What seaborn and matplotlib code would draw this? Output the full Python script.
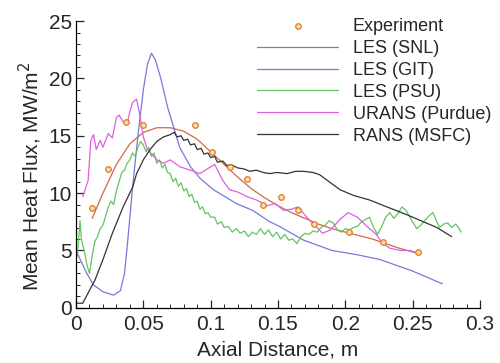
import matplotlib
matplotlib.use("Agg")
import matplotlib.pyplot as plt
import seaborn as sns
import numpy as np
from matplotlib.ticker import MultipleLocator

# ---------------- data ----------------
exp_x = [0.012, 0.024, 0.037, 0.050, 0.088, 0.101, 0.114, 0.127, 0.139, 0.152,
         0.165, 0.177, 0.203, 0.228, 0.254]
exp_y = [8.7, 12.1, 16.2, 15.9, 15.9, 13.6, 12.3, 11.2, 9.0, 9.7,
         8.5, 7.3, 6.6, 5.7, 4.9]

snl_x = [0.012, 0.020, 0.030, 0.040, 0.050, 0.060, 0.070, 0.080, 0.090, 0.100,
         0.110, 0.120, 0.130, 0.140, 0.150, 0.160, 0.170, 0.180, 0.190, 0.200,
         0.210, 0.220, 0.230, 0.240, 0.255]
snl_y = [7.8, 10.0, 12.5, 14.3, 15.3, 15.7, 15.7, 15.4, 14.7, 13.6,
         12.5, 11.4, 10.4, 9.6, 8.9, 8.3, 7.8, 7.3, 6.9, 6.6,
         6.3, 6.0, 5.6, 5.2, 4.7]

git_x = [0.000, 0.004, 0.008, 0.013, 0.020, 0.028, 0.033, 0.036, 0.038, 0.042,
         0.046, 0.050, 0.053, 0.056, 0.059, 0.063, 0.068, 0.077, 0.085, 0.092,
         0.102, 0.119, 0.131, 0.144, 0.151, 0.169, 0.190, 0.210, 0.226, 0.250,
         0.272]
git_y = [5.0, 4.0, 3.0, 2.0, 1.4, 1.1, 1.5, 3.0, 5.3, 10.5,
         15.0, 19.0, 21.2, 22.2, 21.6, 20.0, 17.5, 14.0, 12.3, 11.3,
         10.3, 9.1, 8.5, 7.5, 7.1, 5.9, 5.0, 4.6, 4.2, 3.2,
         2.1]

psu_x = [0.001, 0.003, 0.004, 0.006, 0.008, 0.010, 0.012, 0.014, 0.016, 0.018,
         0.020, 0.022, 0.024, 0.026, 0.028, 0.030, 0.032, 0.034, 0.036, 0.038,
         0.040, 0.042, 0.044, 0.046, 0.048, 0.050, 0.052, 0.054, 0.056, 0.058,
         0.060, 0.062, 0.064, 0.066, 0.068, 0.070, 0.072, 0.074, 0.076, 0.078,
         0.080, 0.082, 0.084, 0.086, 0.088, 0.090, 0.092, 0.094, 0.096, 0.098,
         0.100, 0.103, 0.105, 0.108, 0.110, 0.113, 0.116, 0.119, 0.122, 0.125,
         0.128, 0.131, 0.134, 0.137, 0.140, 0.143, 0.146, 0.149, 0.152, 0.155,
         0.158, 0.161, 0.164, 0.167, 0.170, 0.173, 0.176, 0.179, 0.182, 0.185,
         0.188, 0.191, 0.194, 0.197, 0.200, 0.203, 0.206, 0.209, 0.212, 0.215,
         0.218, 0.221, 0.224, 0.227, 0.230, 0.233, 0.236, 0.239, 0.242, 0.245,
         0.248, 0.251, 0.253, 0.256, 0.259, 0.262, 0.265, 0.268, 0.270, 0.273,
         0.276, 0.279, 0.282, 0.284, 0.286]
psu_y = [4.5, 7.6, 6.0, 5.0, 3.8, 3.0, 4.5, 5.8, 6.2, 6.9,
         7.2, 8.0, 8.8, 9.3, 9.0, 10.2, 11.0, 11.8, 12.0, 12.6,
         12.9, 13.5, 13.2, 14.0, 14.5, 14.2, 13.6, 14.0, 13.2, 13.5,
         12.6, 12.9, 12.2, 12.5, 11.8, 11.7, 11.0, 11.3, 10.6, 10.9,
         10.2, 10.4, 9.7, 9.9, 9.2, 9.3, 8.6, 8.8, 8.2, 8.3,
         7.9, 7.9, 7.3, 7.5, 7.0, 7.1, 6.6, 6.9, 6.5, 6.7,
         6.2, 6.6, 6.4, 6.9, 6.4, 6.8, 6.2, 6.6, 6.0, 6.4,
         5.9, 6.0, 5.6, 6.2, 6.5, 6.4, 6.7, 6.6, 7.0, 7.2,
         7.6, 7.4, 6.8, 6.6, 6.9, 6.8, 7.0, 7.1, 7.5, 7.7,
         7.9, 7.0, 6.4, 7.1, 7.9, 8.3, 7.8, 8.2, 8.8, 8.5,
         7.9, 7.3, 6.9, 7.2, 7.6, 8.0, 8.3, 7.5, 7.0, 7.3,
         7.4, 7.0, 7.3, 7.0, 6.6]

urans_x = [0.005, 0.009, 0.011, 0.013, 0.015, 0.018, 0.020, 0.024, 0.027, 0.030,
           0.032, 0.035, 0.038, 0.040, 0.042, 0.045, 0.048, 0.050, 0.053, 0.060,
           0.065, 0.070, 0.077, 0.085, 0.092, 0.100, 0.103, 0.109, 0.114, 0.120,
           0.127, 0.134, 0.142, 0.148, 0.154, 0.160, 0.165, 0.172, 0.179, 0.183,
           0.189, 0.196, 0.202, 0.209, 0.216, 0.223, 0.227, 0.233, 0.241, 0.248,
           0.253]
urans_y = [9.7, 11.1, 14.6, 15.1, 13.8, 14.6, 14.0, 15.2, 14.8, 16.6,
           16.8, 16.2, 16.1, 17.1, 17.9, 18.2, 16.4, 14.9, 13.8, 12.9,
           12.6, 12.9, 12.3, 12.0, 11.7, 12.3, 12.5, 11.1, 10.3, 10.1,
           9.7, 9.4, 8.9, 9.1, 8.5, 8.6, 8.8, 7.8, 7.0, 6.5,
           6.8, 7.7, 8.3, 7.9, 7.1, 6.4, 5.7, 5.2, 5.0, 5.0,
           4.8]

rans_x = [0.000, 0.005, 0.009, 0.014, 0.020, 0.027, 0.035, 0.042, 0.045, 0.050,
          0.055, 0.060, 0.065, 0.070, 0.073, 0.075, 0.078, 0.080, 0.083, 0.085,
          0.088, 0.090, 0.093, 0.095, 0.098, 0.100, 0.103, 0.105, 0.109, 0.112,
          0.115, 0.120, 0.125, 0.129, 0.134, 0.139, 0.144, 0.149, 0.157, 0.163,
          0.169, 0.176, 0.181, 0.189, 0.196, 0.206, 0.218, 0.233, 0.246, 0.258,
          0.268, 0.279]
rans_y = [0.4, 0.4, 1.3, 2.4, 4.2, 6.5, 8.8, 10.5, 11.7, 12.9,
          13.8, 14.5, 14.9, 15.1, 15.3, 14.9, 15.0, 14.6, 14.7, 14.2,
          14.3, 13.8, 13.9, 13.4, 13.5, 13.1, 13.2, 12.7, 12.8, 12.4,
          12.5, 12.2, 12.1, 11.9, 12.0, 11.8, 11.7, 11.8, 11.7, 11.9,
          11.9, 11.8, 11.6, 10.9, 10.3, 9.8, 9.4, 8.7, 8.1, 7.5,
          7.0, 6.2]

labels = ["Experiment", "LES (SNL)", "LES (GIT)", "LES (PSU)", "URANS (Purdue)", "RANS (MSFC)"]
x_ticks = [0, 0.05, 0.1, 0.15, 0.2, 0.25, 0.3]
x_tick_labels = ["0", "0.05", "0.1", "0.15", "0.2", "0.25", "0.3"]
y_ticks = [0, 5, 10, 15, 20, 25]

# ---------------- style ----------------
sns.set_style("ticks")
plt.rcParams["font.family"] = ["Liberation Sans", "DejaVu Sans"]

fig = plt.figure(figsize=(5.0, 3.63), dpi=100)
ax = fig.add_axes([0.152, 0.152, 0.808, 0.790])

lw = 0.9
sns.lineplot(x=snl_x, y=snl_y, color="#cf6a48", lw=lw, label=labels[1], ax=ax)
sns.lineplot(x=git_x, y=git_y, color="#7878d8", lw=lw, label=labels[2], ax=ax)
sns.lineplot(x=psu_x, y=psu_y, color="#62c462", lw=lw, label=labels[3], ax=ax)
sns.lineplot(x=urans_x, y=urans_y, color="#e05ee0", lw=lw, label=labels[4], ax=ax)
sns.lineplot(x=rans_x, y=rans_y, color="#333333", lw=lw, label=labels[5], ax=ax)
sns.scatterplot(x=exp_x, y=exp_y, marker="o", s=16, facecolor="#f7dcb8",
                edgecolor="#e07a22", linewidth=0.9, label=labels[0], ax=ax, zorder=5)

ax.set_xlim(0, 0.3)
ax.set_ylim(0, 25)
ax.set_xticks(x_ticks)
ax.set_xticklabels(x_tick_labels)
ax.set_yticks(y_ticks)
ax.xaxis.set_minor_locator(MultipleLocator(0.01))
ax.yaxis.set_minor_locator(MultipleLocator(1))
ax.tick_params(which="major", direction="in", length=6, width=0.9, labelsize=15, pad=5)
ax.tick_params(which="minor", direction="in", length=3, width=0.7)
ax.tick_params(axis="y", pad=3)
sns.despine(ax=ax)
for s in ["left", "bottom"]:
    ax.spines[s].set_linewidth(0.9)
    ax.spines[s].set_color("black")

ax.set_xlabel("Axial Distance, m", fontsize=15, labelpad=5)
ax.set_ylabel("Mean Heat Flux, MW/m$^2$", fontsize=15)
ax.yaxis.set_label_coords(-0.08, 0.46)

handles, labs = ax.get_legend_handles_labels()
order = [labs.index(l) for l in labels]
ax.legend([handles[i] for i in order], [labs[i] for i in order],
          loc="upper left", bbox_to_anchor=(0.514, 0.950), bbox_transform=fig.transFigure,
          frameon=False, fontsize=13, handlelength=4.5, handletextpad=0.8,
          labelspacing=0.27, borderpad=0, borderaxespad=0, numpoints=1)

fig.savefig("out.png", dpi=100)
